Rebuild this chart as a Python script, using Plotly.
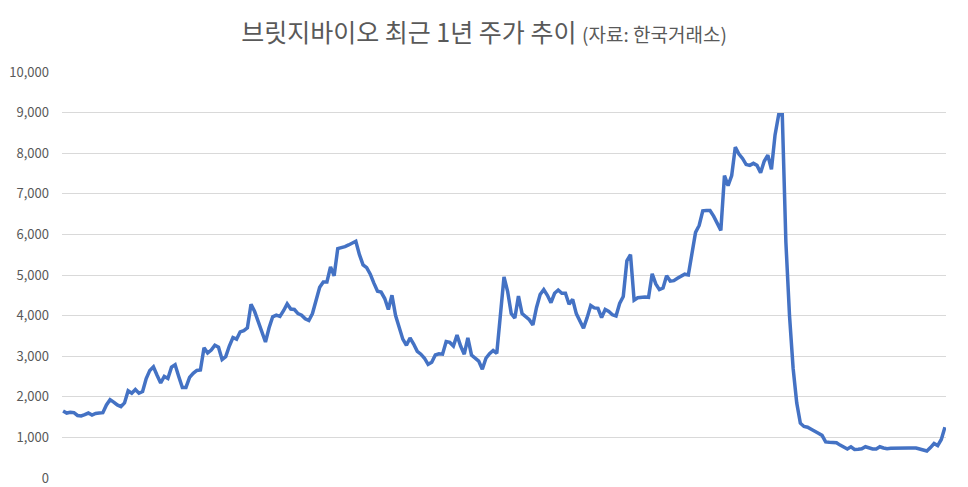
import plotly.graph_objects as go

# 브릿지바이오 daily closing prices (KRW)
prices = [
    1650, 1600, 1620, 1610, 1540, 1530, 1560, 1600, 1550, 1590,
    1600, 1610, 1800, 1930, 1870, 1800, 1760, 1850, 2150, 2090,
    2180, 2090, 2130, 2450, 2650, 2740, 2530, 2340, 2500, 2450,
    2730, 2790, 2500, 2230, 2230, 2480, 2580, 2650, 2660, 3210,
    3080, 3150, 3270, 3220, 2920, 2990, 3250, 3460, 3420, 3600,
    3630, 3700, 4280, 4100, 3850, 3600, 3350, 3700, 3970, 4010,
    3980, 4120, 4290, 4160, 4150, 4050, 4010, 3920, 3880, 4050,
    4380, 4700, 4830, 4830, 5200, 4980, 5650, 5670, 5700, 5740,
    5780, 5830, 5500, 5250, 5180, 5020, 4800, 4600, 4580, 4420,
    4150, 4500, 4000, 3700, 3420, 3270, 3450, 3300, 3120, 3050,
    2950, 2800, 2850, 3030, 3060, 3050, 3360, 3340, 3250, 3520,
    3250, 3050, 3450, 3030, 2960, 2880, 2680, 2950, 3060, 3140,
    3070, 4100, 4950, 4600, 4050, 3940, 4480, 4050, 3980, 3900,
    3770, 4200, 4520, 4640, 4500, 4320, 4550, 4630, 4550, 4550,
    4280, 4400, 4050, 3880, 3690, 3950, 4250, 4190, 4180, 3950,
    4150, 4100, 4020, 3990, 4300, 4470, 5350, 5500, 4380, 4440,
    4460, 4460, 4450, 5030, 4780, 4640, 4680, 4980, 4850, 4860,
    4920, 4980, 5020, 5000, 5500, 6050, 6220, 6580, 6590, 6590,
    6450, 6250, 6100, 7450, 7200, 7450, 8150, 7980, 7870, 7720,
    7700, 7750, 7700, 7520, 7800, 7950, 7600, 8450, 8950, 8950,
    5800, 4000, 2700, 1850, 1350, 1270, 1250, 1200, 1140, 1100,
    1050, 890, 880, 870, 870, 810, 760, 715, 770, 705,
    710, 720, 770, 740, 715, 715, 770, 740, 722, 735,
    740, 740, 740, 740, 740, 740, 740, 715, 690, 665,
    750, 850, 800, 950, 1250,
]
days = list(range(len(prices)))

y_ticks = [0, 1000, 2000, 3000, 4000, 5000, 6000, 7000, 8000, 9000, 10000]
y_tick_labels = ["0", "1,000", "2,000", "3,000", "4,000", "5,000",
                 "6,000", "7,000", "8,000", "9,000", "10,000"]

title_main = "브릿지바이오 최근 1년 주가 추이"
title_source = "(자료: 한국거래소)"

FONT = "Noto Sans CJK KR, Noto Sans, sans-serif"

fig = go.Figure()
fig.add_trace(go.Scatter(
    x=days, y=prices, mode="lines",
    line=dict(color="#4472C4", width=3.5),
    hoverinfo="y",
))

fig.update_layout(
    width=968, height=487,
    margin=dict(l=62, r=22, t=72, b=9),
    paper_bgcolor="white", plot_bgcolor="white",
    showlegend=False,
    font=dict(family=FONT, color="#595959"),
    title=dict(
        text=f"{title_main} <span style='font-size:19px'>{title_source}</span>",
        x=0.5, xanchor="center",
        y=1 - 33 / 487, yanchor="middle", yref="container",
        font=dict(family=FONT, size=25, color="#595959"),
    ),
    xaxis=dict(
        range=[-0.3, len(prices) - 0.7],
        showgrid=False, zeroline=False, showticklabels=False,
        showline=False, ticks="",
    ),
    yaxis=dict(
        range=[0, 10000],
        tickvals=y_ticks, ticktext=y_tick_labels,
        showgrid=True, gridcolor="#d9d9d9", gridwidth=1,
        zeroline=False, showline=False, ticks="",
        tickfont=dict(family=FONT, size=13, color="#595959"),
        ticklabelstandoff=12, automargin=False,
    ),
)

fig.write_html(
    "out.html",
    config={"displayModeBar": False},
    post_script="document.body.style.margin='0';document.body.style.overflow='hidden';",
)
